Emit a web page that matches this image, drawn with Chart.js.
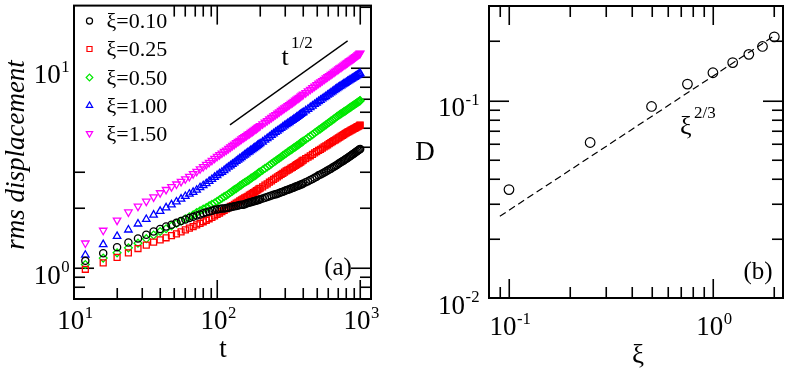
<!DOCTYPE html>
<html><head><meta charset="utf-8">
<script src="https://cdn.jsdelivr.net/npm/chart.js@4.4.1/dist/chart.umd.min.js"></script>
<style>
html,body{margin:0;padding:0;background:#fff;}
#wrap{position:relative;width:789px;height:370px;overflow:hidden;}
canvas{position:absolute;left:0;top:0;}
</style></head><body>
<div id="wrap"><canvas id="ca" width="789" height="370"></canvas><canvas id="cb" width="789" height="370"></canvas></div>
<script>
// ---------- Panel (a) data ----------
const tValues = [12,16,20,24,28,32,36,40,44,48,52,56,60,64,68,72,76,80,84,88,92,96,100,104,108,112,116,120,124,128,132,136,140,144,148,152,156,160,164,168,172,176,180,184,188,192,196,200,
208,216,224,232,240,248,256,264,272,280,288,296,304,312,320,328,336,344,352,360,368,376,384,392,400,
416,432,448,464,480,496,512,528,544,560,576,592,608,624,640,656,672,688,704,720,736,752,768,784,800,816,832,848,864,880,896,912,928,944,960,976,992,1000];

const rmsXi010 = [1.085,1.185,1.27,1.34,1.405,1.465,1.52,1.565,1.61,1.645,1.68,1.715,1.745,1.775,
1.80,1.83,1.85,1.875,1.895,1.915,1.93,1.95,1.96,1.97,1.98,1.98,1.99,2.00,2.01,2.02,2.03,2.04,2.05,2.06,2.07,2.07,2.08,2.10,2.11,2.12,2.13,2.14,2.15,2.16,2.17,2.18,2.19,2.20,
2.22,2.24,2.26,2.28,2.30,2.32,2.33,2.35,2.37,2.39,2.40,2.42,2.44,2.46,2.47,2.49,2.51,2.52,2.54,2.56,2.57,2.59,2.61,2.62,2.64,
2.68,2.71,2.75,2.78,2.82,2.85,2.90,2.93,2.96,3.00,3.03,3.07,3.10,3.13,3.17,3.20,3.24,3.27,3.31,3.34,3.38,3.41,3.44,3.48,3.51,3.54,3.58,3.61,3.64,3.68,3.71,3.75,3.78,3.81,3.85,3.88,3.91,3.93];

const rmsXi025 = [0.985,1.06,1.13,1.19,1.25,1.30,1.345,1.38,1.415,1.45,1.48,1.515,1.55,1.58,
1.61,1.64,1.67,1.70,1.73,1.76,1.79,1.82,1.85,1.88,1.91,1.94,1.97,2.00,2.03,2.05,2.08,2.11,2.13,2.16,2.19,2.21,2.24,2.26,2.28,2.31,2.33,2.36,2.38,2.40,2.43,2.45,2.48,2.50,
2.54,2.59,2.63,2.68,2.72,2.77,2.81,2.85,2.89,2.93,2.97,3.01,3.05,3.08,3.11,3.15,3.18,3.21,3.25,3.28,3.32,3.35,3.38,3.42,3.45,
3.51,3.57,3.63,3.69,3.75,3.81,3.86,3.91,3.97,4.02,4.07,4.12,4.17,4.22,4.27,4.32,4.36,4.41,4.46,4.50,4.55,4.59,4.63,4.68,4.72,4.76,4.79,4.83,4.87,4.90,4.94,4.98,5.01,5.04,5.08,5.11,5.15,5.16];

const rmsXi050 = [1.04,1.12,1.19,1.26,1.33,1.40,1.46,1.52,1.57,1.62,1.67,1.71,1.76,1.80,
1.84,1.89,1.93,1.97,2.00,2.04,2.08,2.11,2.15,2.19,2.23,2.27,2.30,2.34,2.38,2.42,2.46,2.49,2.53,2.57,2.60,2.64,2.67,2.70,2.73,2.76,2.80,2.83,2.86,2.89,2.92,2.96,2.99,3.02,
3.08,3.14,3.19,3.25,3.31,3.37,3.42,3.48,3.53,3.58,3.64,3.69,3.74,3.79,3.84,3.88,3.93,3.98,4.02,4.07,4.11,4.16,4.21,4.25,4.30,
4.38,4.47,4.55,4.63,4.72,4.80,4.88,4.95,5.03,5.11,5.18,5.26,5.34,5.41,5.48,5.55,5.62,5.70,5.77,5.83,5.89,5.95,6.01,6.07,6.13,6.19,6.25,6.31,6.37,6.43,6.49,6.54,6.60,6.65,6.71,6.76,6.82,6.84];

const rmsXi100 = [1.16,1.31,1.44,1.55,1.66,1.75,1.84,1.92,2.00,2.07,2.14,2.21,2.28,2.34,
2.39,2.45,2.52,2.58,2.64,2.71,2.77,2.84,2.90,2.96,3.01,3.07,3.13,3.19,3.24,3.30,3.35,3.41,3.46,3.51,3.56,3.62,3.67,3.72,3.77,3.81,3.86,3.90,3.95,4.00,4.04,4.09,4.13,4.18,
4.26,4.35,4.43,4.51,4.60,4.68,4.76,4.83,4.91,4.98,5.06,5.13,5.20,5.27,5.33,5.40,5.46,5.53,5.59,5.66,5.72,5.79,5.85,5.92,5.98,
6.10,6.21,6.33,6.44,6.56,6.67,6.78,6.88,6.99,7.09,7.19,7.30,7.40,7.49,7.59,7.69,7.78,7.88,7.97,8.05,8.13,8.21,8.29,8.37,8.45,8.53,8.60,8.68,8.75,8.83,8.90,8.97,9.04,9.11,9.18,9.25,9.32,9.35];

const rmsXi150 = [1.33,1.54,1.73,1.90,2.03,2.15,2.26,2.37,2.46,2.54,2.62,2.70,2.78,2.86,
2.95,3.03,3.12,3.20,3.28,3.36,3.44,3.52,3.60,3.67,3.74,3.81,3.87,3.94,4.01,4.08,4.14,4.21,4.27,4.33,4.40,4.46,4.51,4.57,4.63,4.68,4.74,4.79,4.85,4.91,4.96,5.02,5.07,5.13,
5.23,5.33,5.43,5.53,5.63,5.73,5.82,5.91,6.01,6.10,6.19,6.28,6.36,6.44,6.53,6.61,6.69,6.77,6.86,6.94,7.02,7.10,7.19,7.27,7.35,
7.49,7.64,7.78,7.93,8.07,8.21,8.35,8.47,8.60,8.73,8.86,8.99,9.11,9.23,9.35,9.47,9.59,9.71,9.83,9.94,10.05,10.16,10.28,10.39,10.50,10.60,10.71,10.81,10.92,11.02,11.12,11.23,11.33,11.44,11.54,11.64,11.75,11.80];

const seriesLabels = ['ξ=0.10','ξ=0.25','ξ=0.50','ξ=1.00','ξ=1.50'];
const guideT = [123, 817];      // t^{1/2} reference segment
const guideRms = [5.18, 13.6];

// ---------- Panel (b) data ----------
const xiValues = [0.10,0.25,0.50,0.75,1.00,1.25,1.50,1.75,2.00];
const dValues  = [0.0354,0.0613,0.0933,0.1211,0.1382,0.1556,0.1713,0.1878,0.2101];
const fitXi = [0.0902, 1.989];   // dashed xi^{2/3} line end points
const fitD  = [0.02594, 0.212];

// ---------- helpers ----------
const SERIF = '"Liberation Serif","Times New Roman","DejaVu Serif",serif';
function F(size, italic){ return (italic?'italic ':'') + size + 'px ' + SERIF; }
function logTicks(min, max){
  const out=[];
  for(let e=Math.floor(Math.log10(min))-1; e<=Math.ceil(Math.log10(max)); e++){
    for(let k=1;k<=9;k++){ const v=k*Math.pow(10,e); if(v>=min && v<=max) out.push({v, major:k===1, e}); }
  }
  return out;
}
function seg(ctx,x1,y1,x2,y2){ ctx.beginPath(); ctx.moveTo(x1,y1); ctx.lineTo(x2,y2); ctx.stroke(); }
function powLabel(ctx, base, exp, x, yMid, align, fs){
  const fe = fs*0.62;
  ctx.font=F(fs); const wb=ctx.measureText(base).width;
  ctx.font=F(fe); const we=ctx.measureText(exp).width;
  const tot=wb+we;
  const x0 = align==='center' ? x-tot/2 : (align==='right' ? x-tot : x);
  const bl = yMid + fs*0.338;
  ctx.textAlign='left'; ctx.textBaseline='alphabetic';
  ctx.font=F(fs); ctx.fillText(base, x0, bl);
  ctx.font=F(fe); ctx.fillText(exp, x0+wb+0.5, bl - fs*0.42);
}
function drawFrameTicks(chart, skipRect){
  const {ctx, chartArea:a, scales:{x,y}} = chart;
  ctx.save();
  ctx.strokeStyle='#000'; ctx.lineWidth=1.6; ctx.lineCap='butt';
  for(const tk of logTicks(x.min,x.max)){
    const px=Math.round(x.getPixelForValue(tk.v))+0.25;
    if(px<a.left+1.5||px>a.right-1.5) continue;
    const L=tk.major?19:11;
    seg(ctx,px,a.bottom,px,a.bottom-L); seg(ctx,px,a.top,px,a.top+L);
  }
  for(const tk of logTicks(y.min,y.max)){
    const py=Math.round(y.getPixelForValue(tk.v))+0.25;
    if(py<a.top+1.5||py>a.bottom-1.5) continue;
    const L=tk.major?20:11;
    seg(ctx,a.left,py,a.left+L,py); seg(ctx,a.right,py,a.right-L,py);
  }
  if(skipRect){ ctx.fillStyle='#fff'; ctx.fillRect(skipRect[0],skipRect[1],skipRect[2],skipRect[3]); }
  ctx.lineWidth=2;
  ctx.strokeRect(a.left,a.top,a.right-a.left,a.bottom-a.top);
  ctx.restore();
}
function marker(ctx, style, rot, r, x, y, color){
  if(Chart.helpers && Chart.helpers.drawPoint){
    ctx.save(); ctx.strokeStyle=color; ctx.fillStyle='rgba(0,0,0,0)'; ctx.lineWidth=1.2;
    Chart.helpers.drawPoint(ctx,{pointStyle:style,rotation:rot,radius:r,borderWidth:1.2},x,y);
    ctx.restore();
  }
}

// ---------- Chart (a) ----------
const styleA = [
  {c:'#000000', s:'circle', rot:0, r:3.6},
  {c:'#ff0000', s:'rect', rot:0, r:4.2},
  {c:'#00e800', s:'rectRot', rot:0, r:3.9},
  {c:'#0000ff', s:'triangle', rot:0, r:4.3},
  {c:'#ff00ff', s:'triangle', rot:180, r:4.3}
];
const seriesA = [rmsXi010, rmsXi025, rmsXi050, rmsXi100, rmsXi150];

const decorA = {
  id:'decorA',
  beforeDatasetsDraw(chart){ drawFrameTicks(chart,[75,2,96,150]); },
  afterDatasetsDraw(chart){
    const {ctx, chartArea:a, scales:{x,y}} = chart;
    ctx.save(); ctx.fillStyle='#000';
    // legend
    const ly=[21,49,77.5,105.5,133.5];
    seriesLabels.forEach((lab,i)=>{
      marker(ctx, styleA[i].s, styleA[i].rot, styleA[i].r*0.85, 89.5, ly[i], styleA[i].c);
      ctx.fillStyle='#000'; ctx.font=F(22); ctx.textAlign='left'; ctx.textBaseline='alphabetic';
      ctx.fillText(lab, 106.5, ly[i]+7.4);
    });
    // tick labels
    [10,100,1000].forEach((v,i)=>powLabel(ctx,'10',String(i+1),x.getPixelForValue(v)+1,320,'center',27));
    [1,10].forEach((v,i)=>powLabel(ctx,'10',String(i),69,y.getPixelForValue(v)+6.5,'right',27));
    // axis titles
    ctx.font=F(27); ctx.textAlign='center'; ctx.textBaseline='middle';
    ctx.fillText('t', 223, 350);
    ctx.save(); ctx.translate(17,155); ctx.rotate(-Math.PI/2);
    ctx.font=F(27,true); ctx.fillText('rms displacement',0,0); ctx.restore();
    // annotations
    ctx.textAlign='left'; ctx.textBaseline='alphabetic';
    ctx.font=F(26); ctx.fillText('t', 281.5, 64.5);
    ctx.font=F(17); ctx.fillText('1/2', 291, 48);
    ctx.font=F(25); ctx.textAlign='center'; ctx.textBaseline='middle';
    ctx.fillText('(a)', 338, 268);
    ctx.restore();
  }
};

const dsA = seriesA.map((vals,i)=>({
  label: seriesLabels[i],
  data: tValues.map((t,j)=>({x:t,y:vals[j]})),
  showLine:false,
  pointStyle: styleA[i].s, rotation: styleA[i].rot, pointRadius: styleA[i].r,
  pointBorderColor: styleA[i].c, pointBackgroundColor:'rgba(0,0,0,0)', pointBorderWidth:1.3,
  borderColor: styleA[i].c
}));
dsA.push({label:'t^1/2', data: guideT.map((t,j)=>({x:t,y:guideRms[j]})), showLine:true, pointRadius:0,
  borderColor:'#000', borderWidth:1.3, fill:false});

new Chart(document.getElementById('ca'), {
  type:'scatter',
  data:{datasets: dsA},
  options:{
    responsive:false, animation:false, devicePixelRatio:1,
    layout:{padding:{left:74, right:789-371, top:1, bottom:370-299}},
    plugins:{legend:{display:false}, tooltip:{enabled:false}},
    scales:{
      x:{type:'logarithmic', min:10, max:1190, display:false},
      y:{type:'logarithmic', min:0.705, max:20.4, display:false}
    }
  },
  plugins:[decorA]
});

// ---------- Chart (b) ----------
const decorB = {
  id:'decorB',
  beforeDatasetsDraw(chart){ drawFrameTicks(chart,null); },
  afterDatasetsDraw(chart){
    const {ctx, chartArea:a, scales:{x,y}} = chart;
    ctx.save(); ctx.fillStyle='#000';
    powLabel(ctx,'10','-1',x.getPixelForValue(0.1)+1,326,'center',27);
    powLabel(ctx,'10','0',x.getPixelForValue(1)+1,326,'center',27);
    powLabel(ctx,'10','-1',479,y.getPixelForValue(0.1)+6.5,'right',27);
    powLabel(ctx,'10','-2',479,y.getPixelForValue(0.01)+6.5,'right',27);
    ctx.font=F(27); ctx.textAlign='center'; ctx.textBaseline='middle';
    ctx.fillText('D', 425, 153);
    ctx.fillText('ξ', 638, 356);
    ctx.font=F(25); ctx.fillText('(b)', 758, 272);
    ctx.textAlign='left'; ctx.textBaseline='alphabetic';
    ctx.font=F(26); ctx.fillText('ξ', 680, 134);
    ctx.font=F(17); ctx.fillText('2/3', 694, 118);
    ctx.restore();
  }
};

new Chart(document.getElementById('cb'), {
  type:'scatter',
  data:{datasets:[
    {label:'D', data: xiValues.map((v,j)=>({x:v,y:dValues[j]})), showLine:false,
     pointStyle:'circle', pointRadius:4.8, pointBorderColor:'#000', pointBackgroundColor:'rgba(0,0,0,0)', pointBorderWidth:1.2},
    {label:'fit', data: fitXi.map((v,j)=>({x:v,y:fitD[j]})), showLine:true, pointRadius:0,
     borderColor:'#000', borderWidth:1.2, borderDash:[7,4], fill:false}
  ]},
  options:{
    responsive:false, animation:false, devicePixelRatio:1,
    layout:{padding:{left:489, right:2, top:3, bottom:72}},
    plugins:{legend:{display:false}, tooltip:{enabled:false}},
    scales:{
      x:{type:'logarithmic', min:0.0798, max:2.206, display:false},
      y:{type:'logarithmic', min:0.01, max:0.301, display:false}
    }
  },
  plugins:[decorB]
});
</script>
</body></html>
